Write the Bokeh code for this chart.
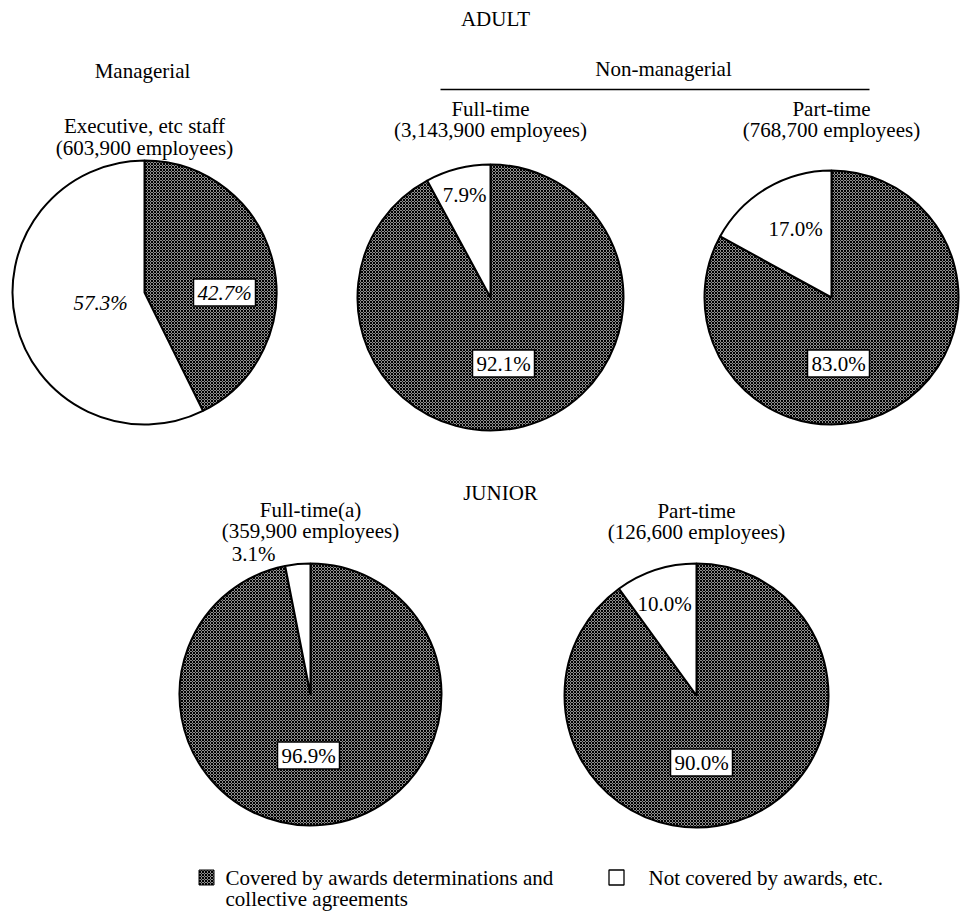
from bokeh.plotting import figure
from bokeh.models import Range1d, ColumnDataSource
from bokeh.embed import file_html
from bokeh.resources import INLINE
from bokeh.core.properties import value

W, H = 973, 914

# ---- data -------------------------------------------------------------
group_titles = ["Executive, etc staff", "Full-time", "Part-time", "Full-time(a)", "Part-time"]
employees = ["603,900", "3,143,900", "768,700", "359,900", "126,600"]
covered_pct = [42.7, 92.1, 83.0, 96.9, 90.0]
not_covered_pct = [57.3, 7.9, 17.0, 3.1, 10.0]
section_titles = ["ADULT", "JUNIOR"]
sub_titles = ["Managerial", "Non-managerial"]
legend_labels = ["Covered by awards determinations and", "collective agreements",
                 "Not covered by awards, etc."]

# ---- layout (pixel coordinates measured from the top-left) -------------
pie_cx = [144, 490, 831, 310, 696]
pie_cy = [292, 297, 297, 694, 695]
pie_r = [132, 133, 127, 131, 132]
title_y = [125, 108, 108, 509, 510]
count_y = [147, 129, 129, 530, 531]
# label positions: covered-share box and not-covered text
cov_lab = [(224, 292), (503, 363), (838, 363), (308, 755), (701, 762)]
not_lab = [(100, 302), (464, 194), (795, 228), (253, 553), (664, 603)]

FONT = value("Liberation Serif")
FS = "21px"
HATCH = dict(fill_color="#8f8f8f", hatch_pattern="diagonal_cross",
             hatch_color="black", hatch_scale=3, hatch_weight=1)


def Y(y):
    return H - y


p = figure(width=W, height=H, x_range=Range1d(0, W), y_range=Range1d(0, H),
           x_axis_type=None, y_axis_type=None, toolbar_location=None,
           output_backend="svg", min_border=0)
p.outline_line_color = None
p.grid.visible = False
p.background_fill_color = "white"
p.border_fill_color = "white"

# ---- pies -------------------------------------------------------------
cov = ColumnDataSource(dict(
    x=pie_cx, y=[Y(v) for v in pie_cy], r=pie_r,
    start=[90 - c * 3.6 for c in covered_pct], end=[90] * 5))
unc = ColumnDataSource(dict(
    x=pie_cx, y=[Y(v) for v in pie_cy], r=pie_r,
    start=[90] * 5, end=[90 + n * 3.6 for n in not_covered_pct]))

p.wedge(x="x", y="y", radius="r", start_angle="start", end_angle="end",
        start_angle_units="deg", end_angle_units="deg", source=cov,
        line_color="black", line_width=2, **HATCH)
p.wedge(x="x", y="y", radius="r", start_angle="start", end_angle="end",
        start_angle_units="deg", end_angle_units="deg", source=unc,
        fill_color="white", line_color="black", line_width=2)

# ---- value labels -----------------------------------------------------
italic = [True, False, False, False, False]
for i in range(5):
    bx, by = cov_lab[i]
    p.rect(x=[bx], y=[Y(by)], width=62, height=27, fill_color="white",
           line_color="black", line_width=1.5)
    p.text(x=[bx], y=[Y(by)], text=[f"{covered_pct[i]:.1f}%"], text_font=FONT,
           text_font_size=FS, text_align="center", text_baseline="middle",
           text_font_style="italic" if italic[i] else "normal", text_color="black")
    nx, ny = not_lab[i]
    p.text(x=[nx], y=[Y(ny)], text=[f"{not_covered_pct[i]:.1f}%"], text_font=FONT,
           text_font_size=FS, text_align="center", text_baseline="middle",
           text_font_style="italic" if italic[i] else "normal", text_color="black")


# ---- titles -----------------------------------------------------------
def label(x, y, t, align="center", size=FS):
    p.text(x=[x], y=[Y(y)], text=[t], text_font=FONT, text_font_size=size,
           text_align=align, text_baseline="middle", text_color="black")


for i in range(5):
    label(pie_cx[i], title_y[i], group_titles[i])
    label(pie_cx[i], count_y[i], f"({employees[i]} employees)")

label(495, 18, section_titles[0])
label(500, 492, section_titles[1])
label(142, 70, sub_titles[0])
label(663, 68, sub_titles[1])
p.line(x=[440, 869], y=[Y(89), Y(89)], line_color="black", line_width=1.5)

# ---- legend -----------------------------------------------------------
p.rect(x=[206], y=[Y(877)], width=15, height=15, line_color="black",
       line_width=1, **HATCH)
label(225, 877, legend_labels[0], align="left")
label(225, 898, legend_labels[1], align="left")
p.rect(x=[616], y=[Y(877)], width=15, height=15, fill_color="white",
       line_color="black", line_width=1.3)
label(648, 877, legend_labels[2], align="left")

open("out.html", "w").write(file_html(p, INLINE))
